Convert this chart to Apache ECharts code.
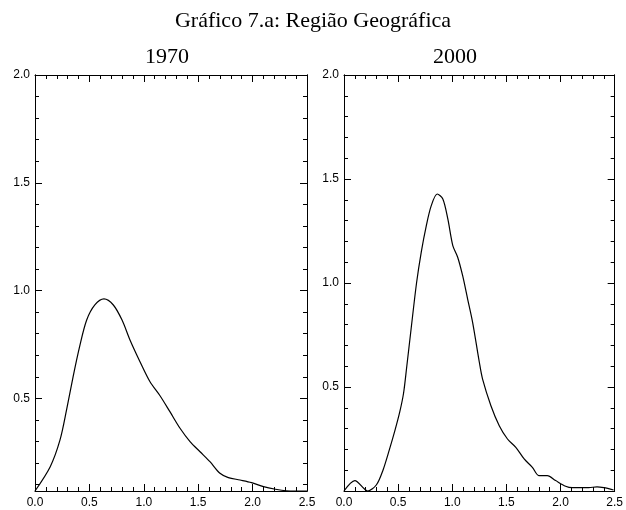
<!DOCTYPE html>
<html>
<head>
<meta charset="utf-8">
<script src="https://cdn.jsdelivr.net/npm/echarts@6/dist/echarts.min.js"></script>
<style>
html,body{margin:0;padding:0;background:#fff;}
#c{width:626px;height:510px;}
</style>
</head>
<body>
<div id="c"></div>
<script>
// ---- data ----
var mainTitle = 'Gráfico 7.a: Região Geográfica';
var panelTitles = ['1970', '2000'];

var x1970 = [0.00, 0.14, 0.23, 0.29, 0.35, 0.41, 0.475, 0.55, 0.634, 0.72, 0.80, 0.873, 0.965, 1.057, 1.149, 1.24, 1.333, 1.425, 1.517, 1.608, 1.70, 1.777, 1.884, 1.99, 2.10, 2.21, 2.31, 2.405, 2.50];
var y1970 = [0.07, 0.183, 0.307, 0.446, 0.600, 0.740, 0.863, 0.933, 0.961, 0.933, 0.863, 0.771, 0.670, 0.577, 0.512, 0.438, 0.361, 0.299, 0.252, 0.206, 0.152, 0.132, 0.121, 0.109, 0.090, 0.078, 0.071, 0.070, 0.070];

var x2000 = [0.00, 0.10, 0.22, 0.30, 0.36, 0.42, 0.47, 0.515, 0.55, 0.58, 0.62, 0.67, 0.714, 0.76, 0.806, 0.861, 0.913, 0.959, 1.005, 1.05, 1.096, 1.142, 1.188, 1.25, 1.28, 1.357, 1.434, 1.51, 1.587, 1.664, 1.74, 1.80, 1.878, 1.955, 2.047, 2.108, 2.26, 2.337, 2.40, 2.49];
var y2000 = [0.00, 0.05, 0.00, 0.03, 0.10, 0.20, 0.29, 0.38, 0.47, 0.60, 0.78, 1.00, 1.15, 1.275, 1.372, 1.428, 1.404, 1.308, 1.18, 1.124, 1.035, 0.923, 0.811, 0.619, 0.538, 0.41, 0.314, 0.25, 0.21, 0.154, 0.114, 0.074, 0.074, 0.05, 0.023, 0.016, 0.016, 0.02, 0.016, 0.005];

var xTickLabels = [0.0, 0.5, 1.0, 1.5, 2.0, 2.5];
var yMajorTicks = [0.5, 1.0, 1.5, 2.0];
var yMinorTicks = [0.1, 0.2, 0.3, 0.4, 0.6, 0.7, 0.8, 0.9, 1.1, 1.2, 1.3, 1.4, 1.6, 1.7, 1.8, 1.9];
var yMins = [0.07, 0.0];
var yMax = 2.0;
var xMin = 0, xMax = 2.5;

// ---- chart ----
var chart = echarts.init(document.getElementById('c'), null, {renderer: 'canvas'});
var lblFont = 'Liberation Sans';
var lineStyle = {color: '#000', width: 1};

function pairs(xs, ys) { return xs.map(function (x, i) { return [x, ys[i]]; }); }

var grids = [
  {left: 35, top: 75, width: 272, height: 416},
  {left: 344, top: 75, width: 272, height: 416}
];
var xAxes = [], yAxes = [], series = [];
grids.forEach(function (g, gi) {
  ['bottom', 'top'].forEach(function (pos) {
    xAxes.push({
      gridIndex: gi, type: 'value', position: pos, min: xMin, max: xMax, interval: 0.5,
      axisLine: {show: true, onZero: false, lineStyle: lineStyle},
      axisTick: {show: true, inside: true, length: 7, lineStyle: lineStyle},
      minorTick: {show: true, splitNumber: 5, length: 4, lineStyle: lineStyle},
      splitLine: {show: false},
      axisLabel: {show: pos === 'bottom', margin: 6, color: '#000', fontFamily: lblFont, fontSize: 12,
        customValues: xTickLabels, formatter: function (v) { return Number(v).toFixed(1); }}
    });
  });
  ['left', 'right'].forEach(function (pos) {
    yAxes.push({
      gridIndex: gi, type: 'value', position: pos, min: yMins[gi], max: yMax,
      axisLine: {show: true, onZero: false, lineStyle: lineStyle},
      axisTick: {show: true, inside: true, length: 7, lineStyle: lineStyle, customValues: yMajorTicks},
      splitLine: {show: false},
      axisLabel: {show: pos === 'left', margin: 5, color: '#000', fontFamily: lblFont, fontSize: 12,
        customValues: yMajorTicks, formatter: function (v) { return Number(v).toFixed(1); }}
    });
    yAxes.push({
      gridIndex: gi, type: 'value', position: pos, min: yMins[gi], max: yMax,
      axisLine: {show: true, onZero: false, lineStyle: lineStyle},
      axisTick: {show: true, inside: true, length: 4, lineStyle: lineStyle, customValues: yMinorTicks},
      splitLine: {show: false},
      axisLabel: {show: false}
    });
  });
});

series.push({type: 'line', xAxisIndex: 0, yAxisIndex: 0, data: pairs(x1970, y1970), smooth: 0.3,
  showSymbol: false, lineStyle: {color: '#000', width: 1.2}, clip: true, animation: false});
series.push({type: 'line', xAxisIndex: 2, yAxisIndex: 4, data: pairs(x2000, y2000), smooth: 0.3,
  showSymbol: false, lineStyle: {color: '#000', width: 1.2}, clip: true, animation: false});

chart.setOption({
  animation: false,
  backgroundColor: '#fff',
  grid: grids,
  xAxis: xAxes,
  yAxis: yAxes,
  series: series,
  graphic: [
    {type: 'text', x: 313, y: 21, style: {text: mainTitle, fill: '#000', align: 'center', verticalAlign: 'middle',
      font: '22px "Liberation Serif"'}},
    {type: 'text', x: 167, y: 57, style: {text: panelTitles[0], fill: '#000', align: 'center', verticalAlign: 'middle',
      font: '22px "Liberation Serif"'}},
    {type: 'text', x: 455, y: 57, style: {text: panelTitles[1], fill: '#000', align: 'center', verticalAlign: 'middle',
      font: '22px "Liberation Serif"'}}
  ]
});
</script>
</body>
</html>
